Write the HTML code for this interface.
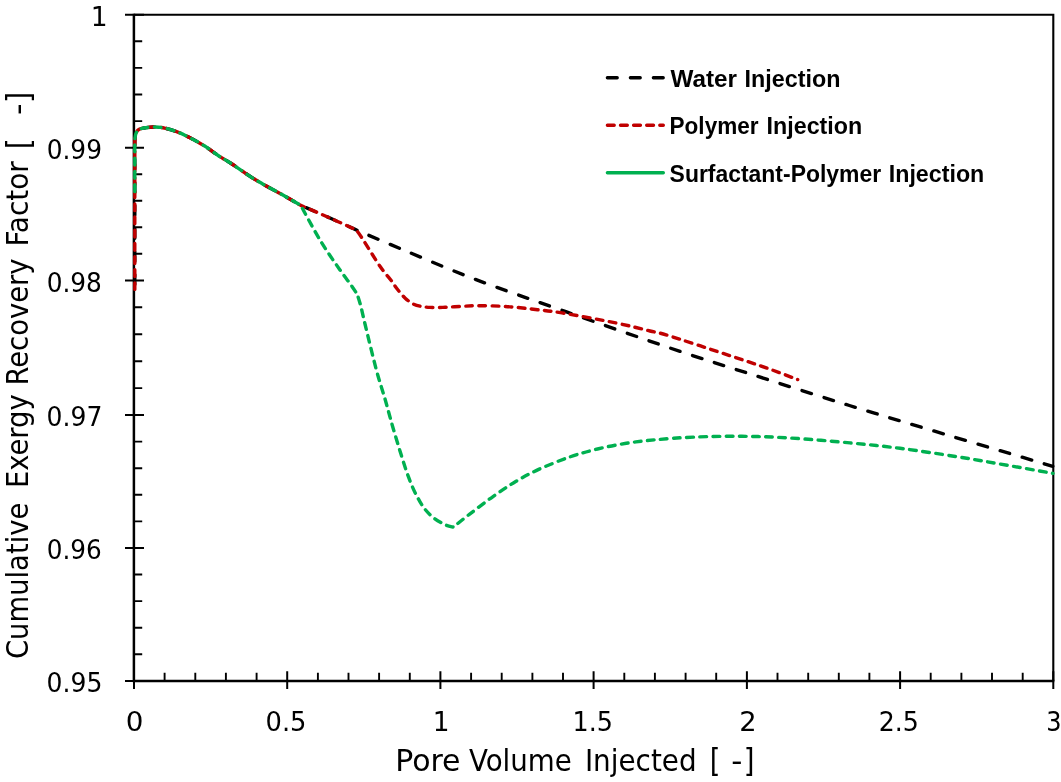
<!DOCTYPE html>
<html lang="en"><head><meta charset="utf-8"><title>Cumulative Exergy Recovery Factor</title>
<style>html,body{margin:0;padding:0;background:#fff;}body{width:1061px;height:782px;overflow:hidden;}svg{display:block;}text{fill:#000;}.t{font-family:"DejaVu Sans Condensed","DejaVu Sans","Liberation Sans",sans-serif;font-stretch:condensed;font-size:26.67px;}.a{font-family:"DejaVu Sans Condensed","DejaVu Sans","Liberation Sans",sans-serif;font-stretch:condensed;font-size:29.33px;}.k{font-family:"DejaVu Sans Condensed","DejaVu Sans","Liberation Sans",sans-serif;font-stretch:condensed;font-size:32.4px;}.b{font-family:"Liberation Sans",sans-serif;font-size:23.3px;font-weight:bold;}</style></head><body>
<svg width="1061" height="782" viewBox="0 0 1061 782">
<rect width="1061" height="782" fill="#fff"/>
<g stroke="#000" fill="none" stroke-linecap="butt">
<path d="M134.0 14.7 H1053.3 V680.9" stroke-width="2.1"/>
<path d="M133.9 13.7 V680.9 H1054.3" stroke-width="2.5"/>
<path d="M125.0 14.7 H144.0 M125.0 147.7 H144.0 M125.0 280.4 H144.0 M125.0 415.1 H144.0 M125.0 548.0 H144.0 M125.0 680.9 H144.0 M134.0 671.2 V688.9 M287.2 671.2 V688.9 M440.4 671.2 V688.9 M593.6 671.2 V688.9 M746.9 671.2 V688.9 M900.1 671.2 V688.9 M1053.3 671.2 V688.9" stroke-width="2"/>
<path d="M134.0 41.3 H142.2 M134.0 67.9 H142.2 M134.0 94.5 H142.2 M134.0 121.1 H142.2 M134.0 174.2 H142.2 M134.0 200.8 H142.2 M134.0 227.3 H142.2 M134.0 253.8 H142.2 M134.0 307.3 H142.2 M134.0 334.2 H142.2 M134.0 361.2 H142.2 M134.0 388.1 H142.2 M134.0 441.6 H142.2 M134.0 468.2 H142.2 M134.0 494.8 H142.2 M134.0 521.4 H142.2 M134.0 574.5 H142.2 M134.0 601.1 H142.2 M134.0 627.7 H142.2 M134.0 654.3 H142.2 M164.6 672.8 V680.9 M195.3 672.8 V680.9 M225.9 672.8 V680.9 M256.6 672.8 V680.9 M317.9 672.8 V680.9 M348.5 672.8 V680.9 M379.1 672.8 V680.9 M409.8 672.8 V680.9 M471.1 672.8 V680.9 M501.7 672.8 V680.9 M532.4 672.8 V680.9 M563.0 672.8 V680.9 M624.3 672.8 V680.9 M654.9 672.8 V680.9 M685.6 672.8 V680.9 M716.2 672.8 V680.9 M777.5 672.8 V680.9 M808.2 672.8 V680.9 M838.8 672.8 V680.9 M869.4 672.8 V680.9 M930.7 672.8 V680.9 M961.4 672.8 V680.9 M992.0 672.8 V680.9 M1022.7 672.8 V680.9" stroke-width="1.9"/>
</g>
<g fill="none" stroke-width="3.40" stroke-linecap="round" stroke-linejoin="round">
<path id="pk" d="M134.8 289.4 C134.8 273.3 134.8 208.8 134.8 192.7 C134.8 188.9 134.8 177.1 134.8 170.0 C134.8 162.9 134.8 155.0 134.8 150.0 C134.8 145.0 134.8 142.3 134.9 140.0 C135.0 137.7 135.1 137.2 135.3 136.0 C135.5 134.8 135.9 133.5 136.3 132.6 C136.7 131.7 137.2 130.9 137.8 130.3 C138.4 129.7 138.8 129.3 140.1 128.9 C141.4 128.5 143.2 128.0 145.7 127.7 C148.2 127.4 152.0 126.9 155.2 127.0 C158.3 127.1 160.8 127.2 164.6 128.1 C168.4 128.9 173.4 130.4 177.8 132.1 C182.2 133.8 186.4 135.9 191.0 138.3 C195.6 140.7 200.4 143.3 205.1 146.3 C209.8 149.3 215.0 153.5 219.2 156.2 C223.3 158.9 223.9 158.8 230.0 162.7 C236.1 166.6 247.0 174.6 255.5 179.8 C264.0 185.0 273.4 189.7 281.0 194.0 C288.6 198.3 297.5 203.5 300.8 205.4 C305.7 207.5 320.8 213.9 330.0 218.0 C339.2 222.1 351.8 227.9 356.2 229.9 C363.5 233.0 380.4 240.3 400.0 248.5 C419.6 256.6 446.2 268.3 473.8 278.8 C501.4 289.3 533.3 300.2 565.9 311.7 C598.5 323.2 638.8 337.4 669.4 347.8 C700.0 358.2 719.7 364.2 749.7 373.8 C779.7 383.4 816.0 395.2 849.4 405.5 C882.8 415.8 916.1 425.7 950.0 435.8 C983.9 445.9 1035.7 461.2 1052.8 466.3" stroke="#000" stroke-dasharray="9.80 13.20" stroke-dashoffset="17.92"/>
<path id="pr" d="M134.8 289.4 C134.8 273.3 134.8 208.8 134.8 192.7 C134.8 188.9 134.8 177.1 134.8 170.0 C134.8 162.9 134.8 155.0 134.8 150.0 C134.8 145.0 134.8 142.3 134.9 140.0 C135.0 137.7 135.1 137.2 135.3 136.0 C135.5 134.8 135.9 133.5 136.3 132.6 C136.7 131.7 137.2 130.9 137.8 130.3 C138.4 129.7 138.8 129.3 140.1 128.9 C141.4 128.5 143.2 128.0 145.7 127.7 C148.2 127.4 152.0 126.9 155.2 127.0 C158.3 127.1 160.8 127.2 164.6 128.1 C168.4 128.9 173.4 130.4 177.8 132.1 C182.2 133.8 186.4 135.9 191.0 138.3 C195.6 140.7 200.4 143.3 205.1 146.3 C209.8 149.3 215.0 153.5 219.2 156.2 C223.3 158.9 223.9 158.8 230.0 162.7 C236.1 166.6 247.0 174.6 255.5 179.8 C264.0 185.0 273.4 189.7 281.0 194.0 C288.6 198.3 297.5 203.5 300.8 205.4 C305.7 207.5 320.8 213.9 330.0 218.0 C339.2 222.1 351.8 227.9 356.2 229.9 C357.2 231.2 358.0 231.9 362.0 238.0 C366.0 244.1 375.2 259.3 380.0 266.3 C384.8 273.3 387.9 276.2 390.8 280.0 C393.7 283.8 395.0 286.3 397.4 289.3 C399.8 292.3 402.6 295.8 405.2 298.2 C407.8 300.6 410.2 302.4 412.7 303.7 C415.2 305.0 417.1 305.6 420.0 306.2 C422.9 306.8 425.8 307.2 430.0 307.4 C434.2 307.6 439.7 307.5 445.0 307.3 C450.3 307.1 456.5 306.6 462.0 306.3 C467.5 306.0 471.7 305.7 478.0 305.7 C484.3 305.7 493.3 305.9 500.0 306.2 C506.7 306.5 511.8 306.9 518.0 307.5 C524.2 308.1 530.2 308.8 537.5 309.7 C544.8 310.6 549.0 310.7 562.0 312.9 C575.0 315.1 601.0 319.9 615.7 322.9 C630.4 325.9 641.4 328.9 650.0 331.0 C658.6 333.1 654.7 331.4 667.5 335.3 C680.3 339.2 709.6 349.0 726.7 354.6 C743.8 360.2 758.2 365.0 770.0 369.2 C781.8 373.4 793.1 377.9 797.7 379.6" stroke="#c00000" stroke-dasharray="6.70 6.45" stroke-dashoffset="0.23"/>
<path id="pg" d="M134.8 192.7 C134.8 188.9 134.8 177.1 134.8 170.0 C134.8 162.9 134.8 155.0 134.8 150.0 C134.8 145.0 134.8 142.3 134.9 140.0 C135.0 137.7 135.1 137.2 135.3 136.0 C135.5 134.8 135.9 133.5 136.3 132.6 C136.7 131.7 137.2 130.9 137.8 130.3 C138.4 129.7 138.8 129.3 140.1 128.9 C141.4 128.5 143.2 128.0 145.7 127.7 C148.2 127.4 152.0 126.9 155.2 127.0 C158.3 127.1 160.8 127.2 164.6 128.1 C168.4 128.9 173.4 130.4 177.8 132.1 C182.2 133.8 186.4 135.9 191.0 138.3 C195.6 140.7 200.4 143.3 205.1 146.3 C209.8 149.3 215.0 153.5 219.2 156.2 C223.3 158.9 223.9 158.8 230.0 162.7 C236.1 166.6 247.0 174.6 255.5 179.8 C264.0 185.0 273.4 189.7 281.0 194.0 C288.6 198.3 297.5 203.5 300.8 205.4 C304.0 211.2 313.5 229.2 320.0 240.0 C326.5 250.8 334.8 262.5 340.0 270.0 C345.2 277.5 348.1 280.9 351.0 285.0 C353.9 289.1 356.2 292.8 357.3 294.4 C357.8 296.2 359.2 300.1 360.5 305.0 C361.8 309.9 362.4 313.2 365.0 324.0 C367.6 334.8 373.0 357.3 376.4 370.0 C379.8 382.7 382.2 389.2 385.3 400.0 C388.4 410.8 391.1 421.7 395.0 434.5 C398.9 447.3 404.2 465.5 408.4 476.7 C412.5 487.9 416.1 495.1 419.9 501.6 C423.7 508.2 427.2 512.2 431.4 516.0 C435.5 519.8 441.1 522.8 444.8 524.6 C448.5 526.5 452.0 526.7 453.4 527.1 C456.1 524.9 463.1 519.1 469.7 514.1 C476.2 509.1 485.0 502.2 492.7 496.8 C500.4 491.4 508.0 486.1 515.7 481.5 C523.4 476.9 529.7 473.5 538.7 469.4 C547.8 465.3 560.2 460.3 570.0 456.9 C579.8 453.5 588.1 451.3 597.5 449.0 C606.9 446.7 616.7 444.8 626.3 443.3 C635.9 441.8 643.8 440.8 655.0 439.8 C666.2 438.8 678.9 437.7 693.4 437.1 C707.9 436.5 725.9 436.2 742.0 436.3 C758.1 436.4 772.0 436.9 790.0 438.0 C808.0 439.1 831.7 441.2 850.0 442.9 C868.3 444.6 882.2 446.0 900.0 448.3 C917.8 450.6 940.2 454.1 956.9 456.7 C973.6 459.3 984.0 461.2 1000.0 464.0 C1016.0 466.8 1044.2 471.8 1053.0 473.4" stroke="#00b050" stroke-dasharray="6.70 6.45" stroke-dashoffset="11.81"/>
<path d="M607.4 77.8 H663.2" stroke="#000" stroke-dasharray="9.80 13.20"/>
<path d="M607.4 125.3 H663.3" stroke="#c00000" stroke-dasharray="6.80 6.30"/>
<path d="M607.4 172.8 H663.3" stroke="#00b050"/>
</g>
<text class="b" x="670.46" y="86.5" textLength="66.53" lengthAdjust="spacingAndGlyphs">Water</text>
<text class="b" x="744.57" y="86.5" textLength="95.82" lengthAdjust="spacingAndGlyphs">Injection</text>
<text class="b" x="669.55" y="133.9" textLength="88.99" lengthAdjust="spacingAndGlyphs">Polymer</text>
<text class="b" x="766.60" y="133.9" textLength="95.56" lengthAdjust="spacingAndGlyphs">Injection</text>
<text class="b" x="669.59" y="182.0" textLength="211.56" lengthAdjust="spacingAndGlyphs">Surfactant-Polymer</text>
<text class="b" x="888.79" y="182.0" textLength="95.46" lengthAdjust="spacingAndGlyphs">Injection</text>
<text class="t" x="90.69" y="26.0" textLength="16.86" lengthAdjust="spacingAndGlyphs">1</text>
<text class="t" x="46.69" y="159.0" textLength="55.29" lengthAdjust="spacingAndGlyphs">0.99</text>
<text class="t" x="46.69" y="291.7" textLength="55.23" lengthAdjust="spacingAndGlyphs">0.98</text>
<text class="t" x="46.61" y="426.4" textLength="55.70" lengthAdjust="spacingAndGlyphs">0.97</text>
<text class="t" x="46.74" y="559.2" textLength="54.99" lengthAdjust="spacingAndGlyphs">0.96</text>
<text class="t" x="46.60" y="692.2" textLength="55.73" lengthAdjust="spacingAndGlyphs">0.95</text>
<text class="t" x="125.67" y="731.0" textLength="17.68" lengthAdjust="spacingAndGlyphs">0</text>
<text class="t" x="265.60" y="731.0" textLength="40.89" lengthAdjust="spacingAndGlyphs">0.5</text>
<text class="t" x="432.80" y="731.0" textLength="16.77" lengthAdjust="spacingAndGlyphs">1</text>
<text class="t" x="572.52" y="731.0" textLength="40.35" lengthAdjust="spacingAndGlyphs">1.5</text>
<text class="t" x="739.34" y="731.0" textLength="17.38" lengthAdjust="spacingAndGlyphs">2</text>
<text class="t" x="878.82" y="731.0" textLength="40.07" lengthAdjust="spacingAndGlyphs">2.5</text>
<text class="t" x="1046.2" y="731">3</text>
<text class="a" x="395.29" y="770.5" textLength="65.23" lengthAdjust="spacingAndGlyphs">Pore</text>
<text class="a" x="469.11" y="770.5" textLength="102.73" lengthAdjust="spacingAndGlyphs">Volume</text>
<text class="a" x="584.92" y="770.5" textLength="111.66" lengthAdjust="spacingAndGlyphs">Injected</text>
<text class="k" x="709.80" y="770.9" textLength="10.65" lengthAdjust="spacingAndGlyphs">[</text>
<text class="a" x="731.35" y="770.5" textLength="11.13" lengthAdjust="spacingAndGlyphs">-</text>
<text class="k" x="743.79" y="770.9" textLength="10.74" lengthAdjust="spacingAndGlyphs">]</text>
<g transform="translate(28.0 657) rotate(-90)">
<text class="a" x="-2.03" y="0.0" textLength="156.32" lengthAdjust="spacingAndGlyphs">Cumulative</text>
<text class="a" x="168.91" y="0.0" textLength="93.75" lengthAdjust="spacingAndGlyphs">Exergy</text>
<text class="a" x="271.53" y="0.0" textLength="127.00" lengthAdjust="spacingAndGlyphs">Recovery</text>
<text class="a" x="410.57" y="0.0" textLength="85.27" lengthAdjust="spacingAndGlyphs">Factor</text>
<text class="k" x="507.85" y="1.1" textLength="10.90" lengthAdjust="spacingAndGlyphs">[</text>
<text class="a" x="541.94" y="0.0" textLength="11.55" lengthAdjust="spacingAndGlyphs">-</text>
<text class="k" x="554.05" y="1.1" textLength="11.30" lengthAdjust="spacingAndGlyphs">]</text>
</g>
</svg></body></html>
